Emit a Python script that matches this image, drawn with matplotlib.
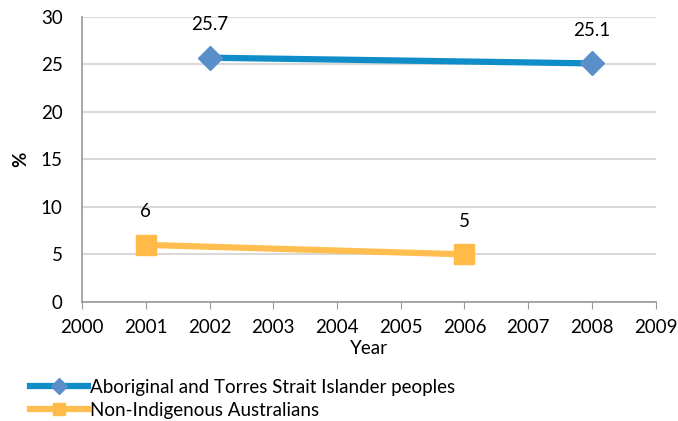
import matplotlib.pyplot as plt

# Data
years_atsi = [2002, 2008]
values_atsi = [25.7, 25.1]
years_non = [2001, 2006]
values_non = [6, 5]
xticks = list(range(2000, 2010))
yticks = [0, 5, 10, 15, 20, 25, 30]

plt.rcParams['font.family'] = ['Lato', 'DejaVu Sans']
fs = 13.5

fig = plt.figure(figsize=(6.78, 4.21), dpi=100)
ax = fig.add_axes([0.121, 0.283, 0.846, 0.677])

l1, = ax.plot(years_atsi, values_atsi, color='#0F8DC9', lw=4.5, marker='D',
              markersize=12, markerfacecolor='#5B8FC9', markeredgecolor='#5B8FC9',
              label='Aboriginal and Torres Strait Islander peoples', zorder=3)
l2, = ax.plot(years_non, values_non, color='#FFBE4F', lw=4.5, marker='s',
              markersize=14, markerfacecolor='#FFBA47', markeredgecolor='#FFBA47',
              label='Non-Indigenous Australians', zorder=3)

for x, y in zip(years_atsi + years_non, values_atsi + values_non):
    ax.annotate(f'{y:g}', (x, y), xytext=(0, 24), textcoords='offset points',
                ha='center', va='center', fontsize=fs)

ax.set_xlim(2000, 2009)
ax.set_ylim(0, 30)
ax.set_xticks(xticks)
ax.set_yticks(yticks)
ax.tick_params(labelsize=fs, color='#999999', length=5)
ax.tick_params(axis='x', pad=7)
ax.tick_params(axis='y', length=0, pad=14)
ax.grid(axis='y', color='#D9D9D9', lw=1.5)
ax.set_axisbelow(True)
for s in ['top', 'right']:
    ax.spines[s].set_visible(False)
for s in ['left', 'bottom']:
    ax.spines[s].set_color('#999999')
    ax.spines[s].set_linewidth(1.2)

ax.set_xlabel('Year', fontsize=fs, labelpad=3)
ax.set_ylabel('%', fontsize=fs, fontweight='bold', labelpad=8)

fig.legend(handles=[l1, l2], loc='upper left', bbox_to_anchor=(0.044, 0.10),
           frameon=False, fontsize=fs, handlelength=3.1, handletextpad=0.1,
           labelspacing=0.3, borderaxespad=0, borderpad=0, markerscale=0.65)

fig.savefig('out.png', dpi=100)
